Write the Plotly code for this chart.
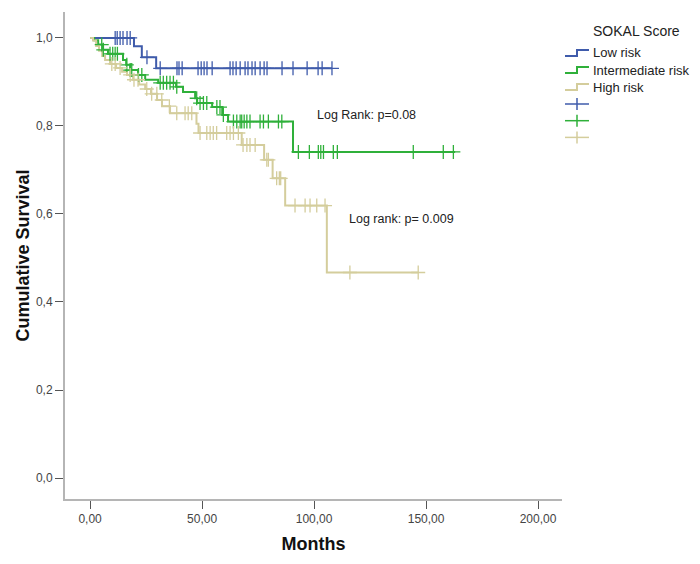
import plotly.graph_objects as go

# ---------------- data ----------------
groups = ["Low risk", "Intermediate risk", "High risk"]

low_t = [0, 19.6, 23.1, 29.5, 108.0]
low_s = [1.0, 0.981, 0.956, 0.931, 0.931]
low_cens = [11.2, 12.1, 13.4, 14.7, 16.5, 17.9, 25.4,
            31.3, 38.8, 39.7, 41.1, 48.2, 49.6, 50.9, 52.2, 54.5, 62.5, 63.8,
            65.2, 67.0, 69.2, 70.5, 72.3, 73.7, 75.9, 77.7, 79.0, 85.7, 90.6,
            96.9, 101.8, 103.6, 108.0]

int_t = [0, 1.8, 3.6, 5.8, 8.0, 14.7, 16.1, 17.9, 21.4, 24.6, 30.4, 38.4,
         41.5, 46.9, 47.8, 54.5, 59.0, 61.6, 90.6, 163.0]
int_s = [1.0, 0.995, 0.985, 0.973, 0.964, 0.950, 0.939, 0.927, 0.916, 0.905,
         0.898, 0.889, 0.877, 0.863, 0.852, 0.843, 0.825, 0.810, 0.741, 0.741]
int_cens = [5.2, 5.9, 8.9, 10.1, 11.2, 12.2, 16.4, 17.9, 18.6, 21.6, 23.1,
            31.3, 32.7, 34.2, 35.7, 37.2, 38.7, 47.6, 49.1, 50.6, 52.1, 56.6,
            58.0, 59.5, 64.0, 65.5, 67.0, 67.7, 68.8, 70.0, 71.4, 75.9, 77.4,
            79.6, 84.1, 85.6, 93.0, 97.9, 101.9, 103.0, 104.2, 108.6, 110.4,
            144.3, 157.7, 162.2]

high_t = [0, 1.3, 2.7, 4.0, 5.4, 6.7, 8.9, 11.6, 14.3, 16.5, 19.2, 21.9,
          24.6, 27.2, 29.9, 32.1, 35.7, 47.5, 48.4, 67.7, 77.7, 81.5, 87.1,
          105.7, 146.6]
high_s = [1.0, 0.994, 0.982, 0.971, 0.959, 0.950, 0.941, 0.932, 0.923,
          0.916, 0.905, 0.894, 0.884, 0.873, 0.859, 0.845, 0.829, 0.805,
          0.784, 0.757, 0.723, 0.681, 0.619, 0.467, 0.467]
high_cens = [9.7, 11.2, 13.4, 17.9, 19.6, 21.4, 25.3, 27.5, 29.8, 32.0, 35.4,
             38.7, 42.4, 43.8, 45.4, 49.1, 52.1, 53.6, 55.0, 56.5, 61.0, 62.5,
             64.0, 66.2, 68.3, 70.0, 71.4, 73.7, 78.9, 79.6, 83.3, 84.5, 85.1,
             91.5, 96.0, 98.2, 101.2, 104.9, 116.0, 146.5]

x_ticks = [0, 50, 100, 150, 200]
x_tick_labels = ["0,00", "50,00", "100,00", "150,00", "200,00"]
y_ticks = [0, 0.2, 0.4, 0.6, 0.8, 1.0]
y_tick_labels = ["0,0", "0,2", "0,4", "0,6", "0,8", "1,0"]

p_texts = ["Log Rank: p=0.08", "Log rank: p= 0.009"]
p_pos = [(100.4, 0.824), (114.6, 0.589)]

legend_title = "SOKAL Score"
colors = ["#3f5bab", "#2fb03a", "#d4cd9c"]

FONT = "Liberation Sans, Arial, sans-serif"

# plot-area geometry in pixels (used only for the hand-drawn legend)
W, H = 700, 564
L, R, T, B = 65, 138, 12, 65
PW, PH = W - L - R, H - T - B


def px2x(px):
    return (px - L) / PW


def py2y(py):
    return (H - B - py) / PH


def surv_at(ts, ss, t):
    v = ss[0]
    for ti, si in zip(ts, ss):
        if ti <= t:
            v = si
    return v


fig = go.Figure()
series = [(low_t, low_s, low_cens), (int_t, int_s, int_cens),
          (high_t, high_s, high_cens)]

for name, (ts, ss, cs), col in zip(groups, series, colors):
    fig.add_trace(go.Scatter(x=ts, y=ss, mode="lines", name=name,
                             line=dict(color=col, width=2, shape="hv"),
                             hoverinfo="skip", showlegend=False))
for name, (ts, ss, cs), col in zip(groups, series, colors):
    fig.add_trace(go.Scatter(
        x=cs, y=[surv_at(ts, ss, c) for c in cs], mode="markers",
        name=name + " (censored)",
        marker=dict(symbol="cross-thin", size=10,
                    line=dict(color=col, width=1.3), color=col),
        hoverinfo="skip", showlegend=False))

for txt, (px, py) in zip(p_texts, p_pos):
    fig.add_annotation(x=px, y=py, text=txt, showarrow=False,
                       xanchor="left", yanchor="middle",
                       font=dict(size=12.5, color="#222222", family=FONT))

# ---- legend (drawn by hand to match the SPSS style) ----
fig.add_annotation(xref="paper", yref="paper", x=px2x(636), y=py2y(31),
                   text=legend_title, showarrow=False, xanchor="center",
                   yanchor="middle",
                   font=dict(size=14, color="#222222", family=FONT))
for i, (name, col) in enumerate(zip(groups, colors)):
    yc = 53 + 17 * i
    path = "M {} {} L {} {} L {} {} L {} {}".format(
        px2x(565), py2y(yc + 3), px2x(577), py2y(yc + 3),
        px2x(577), py2y(yc - 3), px2x(589), py2y(yc - 3))
    fig.add_shape(type="path", xref="paper", yref="paper", path=path,
                  line=dict(color=col, width=2))
    fig.add_annotation(xref="paper", yref="paper", x=px2x(591), y=py2y(yc),
                       text=name, showarrow=False, xanchor="left",
                       yanchor="middle",
                       font=dict(size=13, color="#222222", family=FONT))
for i, col in enumerate(colors):
    yc = 104 + 16.7 * i
    fig.add_shape(type="line", xref="paper", yref="paper",
                  x0=px2x(565), x1=px2x(589), y0=py2y(yc), y1=py2y(yc),
                  line=dict(color=col, width=1.5))
    fig.add_shape(type="line", xref="paper", yref="paper",
                  x0=px2x(577), x1=px2x(577), y0=py2y(yc - 6),
                  y1=py2y(yc + 6), line=dict(color=col, width=1.5))

axis_common = dict(showgrid=False, zeroline=False, showline=True,
                   linecolor="#b5b5b5", linewidth=2, ticks="outside",
                   tickcolor="#555555", ticklen=8, tickwidth=1,
                   automargin=False,
                   tickfont=dict(size=12, color="#444444", family=FONT))

fig.update_layout(
    width=W, height=H,
    margin=dict(l=L, r=R, t=T, b=B),
    paper_bgcolor="white", plot_bgcolor="white",
    xaxis=dict(range=[-11.2, 210.7], tickvals=x_ticks, ticktext=x_tick_labels,
               title=dict(text="<b>Months</b>", standoff=12,
                          font=dict(size=18, color="#111111", family=FONT)),
               **axis_common),
    yaxis=dict(range=[-0.0477, 1.059], tickvals=y_ticks,
               ticktext=y_tick_labels,
               title=dict(text="<b>Cumulative Survival</b>", standoff=2,
                          font=dict(size=18, color="#111111", family=FONT)),
               **axis_common),
    showlegend=False,
)

fig.write_html(
    "out.html",
    config={"displayModeBar": False},
    post_script="document.body.style.margin='0';"
                "document.body.style.overflow='hidden';")
